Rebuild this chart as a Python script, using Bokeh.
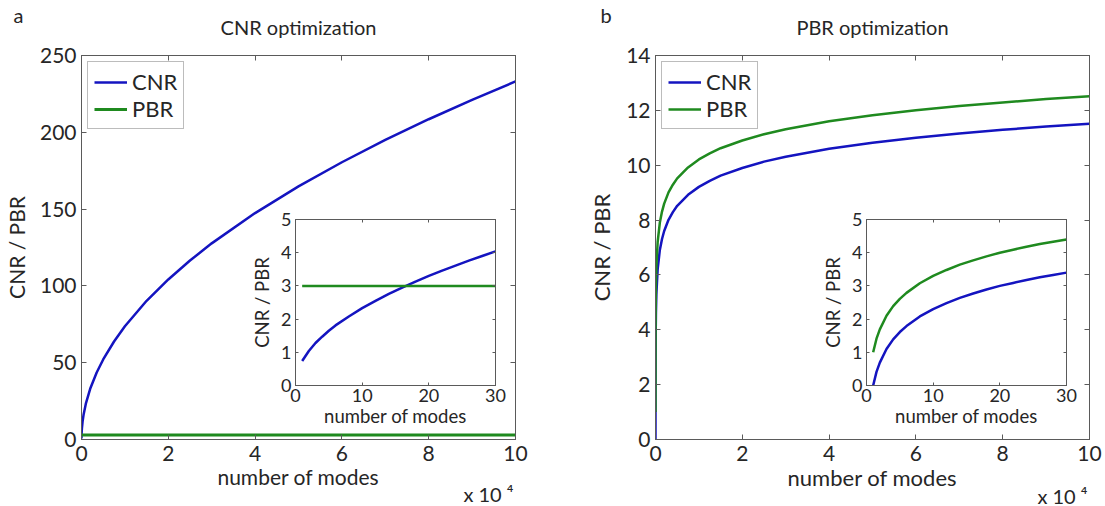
from bokeh.plotting import figure
from bokeh.models import LinearAxis, FixedTicker, Range1d, Title, Column, Row
from bokeh.embed import file_html
from bokeh.resources import INLINE

# ---------------- data ----------------
# Panel a: CNR optimization (number of modes in units of 10^4)
a_modes = [0.0001, 0.001, 0.005, 0.01, 0.025, 0.05, 0.1, 0.2, 0.35, 0.5, 0.75, 1,
           1.5, 2, 2.5, 3, 4, 5, 6, 7, 8, 9, 10]
a_cnr = [0.74, 2.33, 5.2, 7.4, 11.7, 16.5, 23.3, 33.0, 43.6, 52.1, 63.8, 73.7,
         90.3, 104.2, 116.5, 127.7, 147.4, 164.8, 180.5, 195.0, 208.5, 221.1, 233.1]
a_pbr_modes = [0.0001, 10]
a_pbr = [3.0, 3.0]

# Inset a (number of modes 1..30)
ia_modes = [1, 2, 3, 4, 5, 6, 8, 10, 12, 14, 16, 18, 20, 22, 24, 26, 28, 30]
ia_cnr = [0.74, 1.04, 1.28, 1.47, 1.65, 1.81, 2.08, 2.33, 2.55, 2.76, 2.95, 3.13,
          3.30, 3.46, 3.61, 3.76, 3.90, 4.04]
ia_pbr_modes = [1, 30]
ia_pbr = [3.0, 3.0]

# Panel b: PBR optimization (number of modes in units of 10^4)
b_modes = [0.0001, 0.0002, 0.0005, 0.001, 0.002, 0.005, 0.01, 0.02, 0.05, 0.1, 0.15,
           0.2, 0.3, 0.4, 0.5, 0.75, 1, 1.25, 1.5, 2, 2.5, 3, 4, 5, 6, 7, 8, 9, 10]
b_cnr = [0.0, 0.69, 1.61, 2.30, 3.00, 3.91, 4.61, 5.30, 6.21, 6.91, 7.31,
         7.60, 8.01, 8.29, 8.52, 8.92, 9.21, 9.43, 9.62, 9.90, 10.13, 10.31, 10.60,
         10.82, 11.00, 11.16, 11.29, 11.41, 11.51]
b_pbr = [1.0, 1.69, 2.61, 3.30, 4.00, 4.91, 5.61, 6.30, 7.21, 7.91, 8.31,
         8.60, 9.01, 9.29, 9.52, 9.92, 10.21, 10.43, 10.62, 10.90, 11.13, 11.31, 11.60,
         11.82, 12.00, 12.16, 12.29, 12.41, 12.51]

# Inset b (number of modes 1..30)
ib_modes = [1, 1.5, 2, 3, 4, 5, 6, 8, 10, 12, 14, 16, 18, 20, 22, 24, 26, 28, 30]
ib_cnr = [0.0, 0.41, 0.69, 1.10, 1.39, 1.61, 1.79, 2.08, 2.30, 2.48, 2.64, 2.77,
          2.89, 3.00, 3.09, 3.18, 3.26, 3.33, 3.40]
ib_pbr = [1.0, 1.41, 1.69, 2.10, 2.39, 2.61, 2.79, 3.08, 3.30, 3.48, 3.64, 3.77,
          3.89, 4.00, 4.09, 4.18, 4.26, 4.33, 4.40]

main_xticks = [0, 2, 4, 6, 8, 10]
a_yticks = [0, 50, 100, 150, 200, 250]
b_yticks = [0, 2, 4, 6, 8, 10, 12, 14]
inset_xticks = [0, 10, 20, 30]
inset_yticks = [0, 1, 2, 3, 4, 5]

# ---------------- style ----------------
FONT = "Lato"
TXT = "#262626"
AX = "#5a5a5a"
BLUE = "#1414c0"
GREEN = "#1f8a1f"

INSET_TOP = 14
INSET_BOTTOM = 46
INSET_H = 166


def style_axis(ax, tick_size, label_size, tick_in=5, standoff=5, label_standoff=2):
    ax.axis_line_color = AX
    ax.major_tick_line_color = AX
    ax.major_tick_in = tick_in
    ax.major_tick_out = 0
    ax.minor_tick_line_color = None
    ax.major_label_text_font = FONT
    ax.major_label_text_font_size = f"{tick_size}px"
    ax.major_label_text_color = TXT
    ax.major_label_standoff = standoff
    ax.axis_label_text_font = FONT
    ax.axis_label_text_font_size = f"{label_size}px"
    ax.axis_label_text_font_style = "normal"
    ax.axis_label_text_color = TXT
    ax.axis_label_standoff = label_standoff


def mirror_axes(p, xticks, yticks, tick_in, title=None):
    for loc, ticks in (("right", yticks), ("above", xticks)):
        ax = LinearAxis(ticker=FixedTicker(ticks=ticks))
        ax.axis_line_color = AX
        ax.major_tick_line_color = AX
        ax.major_tick_in = tick_in
        ax.major_tick_out = 0
        ax.minor_tick_line_color = None
        ax.major_label_text_font_size = "1px"
        ax.major_label_text_color = None
        ax.major_label_standoff = 0
        if loc == "above" and title is not None:
            # the panel title sits on the top (mirror) axis
            ax.axis_label = title
            ax.axis_label_text_font = FONT
            ax.axis_label_text_font_size = "20px"
            ax.axis_label_text_font_style = "normal"
            ax.axis_label_text_color = TXT
            ax.axis_label_standoff = 17
        p.add_layout(ax, loc)


def text_title(text, size, align, offset, standoff, valign="bottom"):
    return Title(text=text, align=align, offset=offset, standoff=standoff,
                 vertical_align=valign,
                 text_font=FONT, text_font_size=f"{size}px",
                 text_font_style="normal", text_color=TXT)


def make_main(yr, yticks, left, right, title, letter, letter_offset,
              label_size, ylabel):
    p = figure(frame_width=434, frame_height=384,
               min_border_left=left, min_border_right=right,
               min_border_top=55, min_border_bottom=67,
               x_range=Range1d(0, 10), y_range=Range1d(*yr),
               output_backend="svg", toolbar_location=None)
    p.grid.visible = False
    p.outline_line_color = AX
    p.background_fill_color = "white"
    p.border_fill_color = "white"
    p.xaxis.ticker = FixedTicker(ticks=main_xticks)
    p.yaxis.ticker = FixedTicker(ticks=yticks)
    style_axis(p.xaxis[0], 21, label_size, standoff=6, label_standoff=0)
    style_axis(p.yaxis[0], 21, label_size, standoff=5, label_standoff=8)
    p.xaxis.axis_label = "number of modes"
    p.yaxis.axis_label = ylabel
    mirror_axes(p, main_xticks, yticks, 5, title=title)
    p.add_layout(text_title(letter, 20, "left", letter_offset, -30), "above")
    p.add_layout(text_title("x 10 \u2074", 20, "right", 2, -20, "top"), "below")
    return p


def make_inset(yr, left, right):
    p = figure(frame_width=200, frame_height=INSET_H,
               min_border_left=left, min_border_right=right,
               min_border_top=INSET_TOP, min_border_bottom=INSET_BOTTOM,
               x_range=Range1d(0, 30), y_range=Range1d(*yr),
               output_backend="svg", toolbar_location=None)
    p.grid.visible = False
    p.outline_line_color = AX
    p.background_fill_color = "white"
    p.border_fill_color = None
    p.xaxis.ticker = FixedTicker(ticks=inset_xticks)
    p.yaxis.ticker = FixedTicker(ticks=inset_yticks)
    style_axis(p.xaxis[0], 18, 18.5, tick_in=3, standoff=3, label_standoff=0)
    style_axis(p.yaxis[0], 18, 18.5, tick_in=3, standoff=4, label_standoff=5)
    p.xaxis.axis_label = "number of modes"
    p.yaxis.axis_label = "CNR / PBR"
    mirror_axes(p, inset_xticks, inset_yticks, 3)
    return p


def inset_margin(frame_left_in_col, border_left):
    top = 219 - INSET_TOP
    h = INSET_TOP + INSET_H + INSET_BOTTOM
    return (top - 506, 0, 506 - (top + h), frame_left_in_col - border_left)


def style_legend(p):
    lg = p.legend[0]
    lg.location = "top_left"
    lg.margin = 6
    lg.padding = 6
    lg.spacing = 0
    lg.glyph_width = 33
    lg.glyph_height = 22
    lg.label_height = 22
    lg.label_standoff = 5
    lg.label_text_font = FONT
    lg.label_text_font_size = "22px"
    lg.label_text_color = TXT
    lg.border_line_color = "#7a7a7a"
    lg.border_line_width = 1
    lg.background_fill_color = "white"
    lg.background_fill_alpha = 1


# ---------------- panel a ----------------
A_LEFT, A_RIGHT = 79, 47
pa = make_main((0, 250), a_yticks, A_LEFT, A_RIGHT, "CNR optimization", "a", -68,
               21, "CNR / PBR")
pa.line(a_modes, a_cnr, line_color=BLUE, line_width=2.5, legend_label="CNR")
pa.line(a_pbr_modes, a_pbr, line_color=GREEN, line_width=3, legend_label="PBR")
style_legend(pa)

ia = make_inset((0, 5), A_LEFT, A_RIGHT)
ia.line(ia_modes, ia_cnr, line_color=BLUE, line_width=2.5)
ia.line(ia_pbr_modes, ia_pbr, line_color=GREEN, line_width=2.5)
ia.margin = inset_margin(293, A_LEFT)

# ---------------- panel b ----------------
B_LEFT, B_RIGHT = 93, 18
pb = make_main((0, 14), b_yticks, B_LEFT, B_RIGHT, "PBR optimization", "b", -55,
               22, "CNR / PBR")
pb.line(b_modes, b_cnr, line_color=BLUE, line_width=2.5, legend_label="CNR")
pb.line(b_modes, b_pbr, line_color=GREEN, line_width=2.5, legend_label="PBR")
style_legend(pb)

ib = make_inset((0, 5), B_LEFT, B_RIGHT)
ib.line(ib_modes, ib_cnr, line_color=BLUE, line_width=2.5)
ib.line(ib_modes, ib_pbr, line_color=GREEN, line_width=2.5)
ib.margin = inset_margin(864 - 560, B_LEFT)

layout = Row(children=[Column(children=[pa, ia]), Column(children=[pb, ib])])

open("out.html", "w").write(file_html(layout, INLINE))
